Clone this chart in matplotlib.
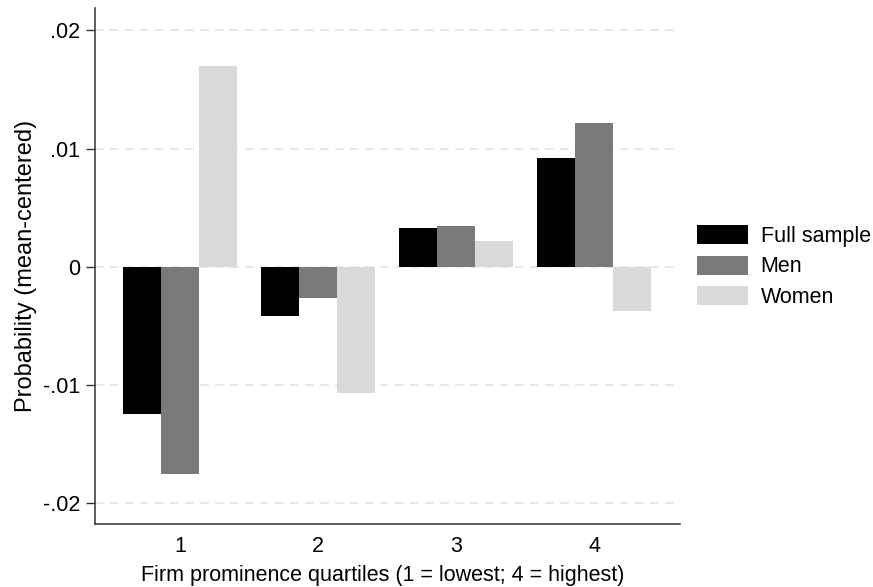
import matplotlib
matplotlib.use('Agg')
import matplotlib.pyplot as plt
import numpy as np

plt.rcParams['font.family'] = ['Liberation Sans', 'DejaVu Sans']

# 数据
quartiles = ['1', '2', '3', '4']
full_sample = [-0.0125, -0.0042, 0.0033, 0.0092]
men = [-0.0176, -0.0027, 0.0034, 0.0122]
women = [0.0170, -0.0107, 0.0022, -0.0038]

series = [('Full sample', full_sample, '#000000'),
          ('Men', men, '#7a7a7a'),
          ('Women', women, '#d9d9d9')]

fs = 15.5

fig = plt.figure(figsize=(8.73, 5.87), dpi=100)
ax = fig.add_axes([95 / 873, 1 - 524 / 587, 585 / 873, 516 / 587])

x = np.arange(len(quartiles))
w = 0.275

# 网格线
for yv in [-0.02, -0.01, 0, 0.01, 0.02]:
    ax.axhline(yv, color='#e3e3e3', lw=1.2, ls=(0, (5, 4)), zorder=0)

for i, (name, vals, col) in enumerate(series):
    ax.bar(x + (i - 1) * w, vals, width=w, color=col, label=name, zorder=2)

ax.set_xlim(-0.616, 3.623)
ax.set_ylim(-0.0218, 0.0219)
ax.set_yticks([-0.02, -0.01, 0, 0.01, 0.02])
ax.set_yticklabels(['-.02', '-.01', '0', '.01', '.02'])
ax.set_xticks(x)
ax.set_xticklabels(quartiles)

ax.spines['top'].set_visible(False)
ax.spines['right'].set_visible(False)
for s in ['left', 'bottom']:
    ax.spines[s].set_color('#333333')
    ax.spines[s].set_linewidth(1.1)

ax.tick_params(axis='y', length=6.5, width=1, color='#333333', labelsize=fs, pad=4)
ax.tick_params(axis='x', length=0, labelsize=fs, pad=9)

ax.set_ylabel('Probability (mean-centered)', fontsize=17, labelpad=4)
ax.set_xlabel('Firm prominence quartiles (1 = lowest; 4 = highest)', fontsize=fs, labelpad=2)
ax.xaxis.set_label_coords(0.491, -0.08)

fig.legend(loc='center left', bbox_to_anchor=(697 / 873, 1 - 266.5 / 587),
           frameon=False, fontsize=fs, borderpad=0, borderaxespad=0,
           handlelength=2.35, handleheight=0.98, handletextpad=0.6,
           labelspacing=0.4)

fig.savefig('out.png', dpi=100)
